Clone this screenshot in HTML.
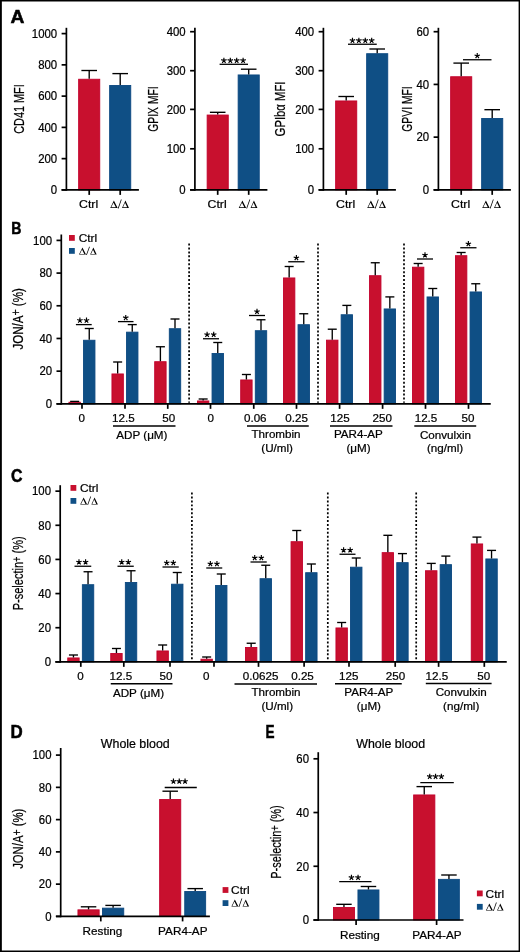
<!DOCTYPE html>
<html><head><meta charset="utf-8"><style>
html,body{margin:0;padding:0;background:#fff;}
svg{display:block;will-change:transform;}
text{font-family:"Liberation Sans",sans-serif;fill:#000;}
text:not([stroke]){stroke:#000;stroke-width:0.22px;}
</style></head><body>
<svg width="520" height="952" viewBox="0 0 520 952">
<rect x="0" y="0" width="520" height="952" fill="#000"/>
<rect x="1.85" y="1.5" width="516.75" height="949.0" fill="#fff"/>
<line x1="66.40" y1="27.80" x2="66.40" y2="190.75" stroke="#000" stroke-width="1.7" />
<line x1="61.60" y1="189.90" x2="66.40" y2="189.90" stroke="#000" stroke-width="1.7" />
<text transform="translate(57.20,194.20) scale(0.95,1)" font-size="12.0" text-anchor="end" >0</text>
<line x1="61.60" y1="158.64" x2="66.40" y2="158.64" stroke="#000" stroke-width="1.7" />
<text transform="translate(57.20,162.94) scale(0.95,1)" font-size="12.0" text-anchor="end" >200</text>
<line x1="61.60" y1="127.38" x2="66.40" y2="127.38" stroke="#000" stroke-width="1.7" />
<text transform="translate(57.20,131.68) scale(0.95,1)" font-size="12.0" text-anchor="end" >400</text>
<line x1="61.60" y1="96.12" x2="66.40" y2="96.12" stroke="#000" stroke-width="1.7" />
<text transform="translate(57.20,100.42) scale(0.95,1)" font-size="12.0" text-anchor="end" >600</text>
<line x1="61.60" y1="64.86" x2="66.40" y2="64.86" stroke="#000" stroke-width="1.7" />
<text transform="translate(57.20,69.16) scale(0.95,1)" font-size="12.0" text-anchor="end" >800</text>
<line x1="61.60" y1="33.60" x2="66.40" y2="33.60" stroke="#000" stroke-width="1.7" />
<text transform="translate(57.20,37.90) scale(0.95,1)" font-size="12.0" text-anchor="end" >1000</text>
<rect x="78.65" y="79.25" width="21.10" height="110.65" fill="#C8102E" stroke="#C2002C" stroke-width="0.9"/>
<rect x="109.65" y="85.45" width="21.10" height="104.45" fill="#0F4F85" stroke="#0B4880" stroke-width="0.9"/>
<line x1="89.20" y1="78.80" x2="89.20" y2="70.50" stroke="#000" stroke-width="1.35" />
<line x1="81.40" y1="70.50" x2="97.00" y2="70.50" stroke="#000" stroke-width="1.35" />
<line x1="120.20" y1="85.00" x2="120.20" y2="73.60" stroke="#000" stroke-width="1.35" />
<line x1="112.40" y1="73.60" x2="128.00" y2="73.60" stroke="#000" stroke-width="1.35" />
<line x1="61.60" y1="189.90" x2="138.90" y2="189.90" stroke="#000" stroke-width="1.7" />
<line x1="89.20" y1="189.90" x2="89.20" y2="194.90" stroke="#000" stroke-width="1.7" />
<line x1="120.20" y1="189.90" x2="120.20" y2="194.90" stroke="#000" stroke-width="1.7" />
<text transform="translate(88.60,208.00) scale(1.1,1)" font-size="11.2" text-anchor="middle" >Ctrl</text>
<g transform="translate(110.25,208.00) scale(1.0)" fill="#000"><path fill-rule="evenodd" d="M0.00,0.00L3.63,-7.50L7.40,0.00Z M0.98,-0.65L5.56,-0.65L3.23,-5.29Z"/><path d="M7.5,0.4 L8.3,0.4 L11.5,-8.4 L10.7,-8.4 Z"/><path fill-rule="evenodd" d="M11.80,0.00L15.18,-7.50L18.70,0.00Z M12.75,-0.65L16.90,-0.65L14.79,-5.16Z"/></g>
<text transform="translate(24.20,109.00) rotate(-90)" font-size="14.2" text-anchor="middle" x="0" y="0" textLength="49.5" lengthAdjust="spacingAndGlyphs">CD41 MFI</text>
<line x1="194.90" y1="27.80" x2="194.90" y2="190.70" stroke="#000" stroke-width="1.7" />
<line x1="190.10" y1="189.85" x2="194.90" y2="189.85" stroke="#000" stroke-width="1.7" />
<text transform="translate(185.70,194.15) scale(0.95,1)" font-size="12.0" text-anchor="end" >0</text>
<line x1="190.10" y1="148.80" x2="194.90" y2="148.80" stroke="#000" stroke-width="1.7" />
<text transform="translate(185.70,153.10) scale(0.95,1)" font-size="12.0" text-anchor="end" >100</text>
<line x1="190.10" y1="109.40" x2="194.90" y2="109.40" stroke="#000" stroke-width="1.7" />
<text transform="translate(185.70,113.70) scale(0.95,1)" font-size="12.0" text-anchor="end" >200</text>
<line x1="190.10" y1="70.70" x2="194.90" y2="70.70" stroke="#000" stroke-width="1.7" />
<text transform="translate(185.70,75.00) scale(0.95,1)" font-size="12.0" text-anchor="end" >300</text>
<line x1="190.10" y1="31.70" x2="194.90" y2="31.70" stroke="#000" stroke-width="1.7" />
<text transform="translate(185.70,36.00) scale(0.95,1)" font-size="12.0" text-anchor="end" >400</text>
<rect x="207.15" y="115.05" width="21.10" height="74.80" fill="#C8102E" stroke="#C2002C" stroke-width="0.9"/>
<rect x="238.15" y="74.95" width="21.10" height="114.90" fill="#0F4F85" stroke="#0B4880" stroke-width="0.9"/>
<line x1="217.70" y1="114.60" x2="217.70" y2="112.30" stroke="#000" stroke-width="1.35" />
<line x1="209.90" y1="112.30" x2="225.50" y2="112.30" stroke="#000" stroke-width="1.35" />
<line x1="248.70" y1="74.50" x2="248.70" y2="69.20" stroke="#000" stroke-width="1.35" />
<line x1="240.90" y1="69.20" x2="256.50" y2="69.20" stroke="#000" stroke-width="1.35" />
<line x1="190.10" y1="189.85" x2="267.40" y2="189.85" stroke="#000" stroke-width="1.7" />
<line x1="217.70" y1="189.85" x2="217.70" y2="194.85" stroke="#000" stroke-width="1.7" />
<line x1="248.70" y1="189.85" x2="248.70" y2="194.85" stroke="#000" stroke-width="1.7" />
<text transform="translate(217.10,208.00) scale(1.1,1)" font-size="11.2" text-anchor="middle" >Ctrl</text>
<g transform="translate(238.75,208.00) scale(1.0)" fill="#000"><path fill-rule="evenodd" d="M0.00,0.00L3.63,-7.50L7.40,0.00Z M0.98,-0.65L5.56,-0.65L3.23,-5.29Z"/><path d="M7.5,0.4 L8.3,0.4 L11.5,-8.4 L10.7,-8.4 Z"/><path fill-rule="evenodd" d="M11.80,0.00L15.18,-7.50L18.70,0.00Z M12.75,-0.65L16.90,-0.65L14.79,-5.16Z"/></g>
<line x1="219.60" y1="64.30" x2="248.00" y2="64.30" stroke="#000" stroke-width="1.3" />
<path d="M223.90,60.55L223.90,57.70M223.90,60.55L226.61,59.67M223.90,60.55L225.58,62.86M223.90,60.55L222.22,62.86M223.90,60.55L221.19,59.67" stroke="#000" stroke-width="1.15" fill="none"/>
<path d="M230.30,60.55L230.30,57.70M230.30,60.55L233.01,59.67M230.30,60.55L231.98,62.86M230.30,60.55L228.62,62.86M230.30,60.55L227.59,59.67" stroke="#000" stroke-width="1.15" fill="none"/>
<path d="M236.70,60.55L236.70,57.70M236.70,60.55L239.41,59.67M236.70,60.55L238.38,62.86M236.70,60.55L235.02,62.86M236.70,60.55L233.99,59.67" stroke="#000" stroke-width="1.15" fill="none"/>
<path d="M243.10,60.55L243.10,57.70M243.10,60.55L245.81,59.67M243.10,60.55L244.78,62.86M243.10,60.55L241.42,62.86M243.10,60.55L240.39,59.67" stroke="#000" stroke-width="1.15" fill="none"/>
<text transform="translate(157.60,109.00) rotate(-90)" font-size="14.2" text-anchor="middle" x="0" y="0" textLength="45.4" lengthAdjust="spacingAndGlyphs">GPIX MFI</text>
<line x1="323.40" y1="27.80" x2="323.40" y2="190.70" stroke="#000" stroke-width="1.7" />
<line x1="318.60" y1="189.85" x2="323.40" y2="189.85" stroke="#000" stroke-width="1.7" />
<text transform="translate(314.20,194.15) scale(0.95,1)" font-size="12.0" text-anchor="end" >0</text>
<line x1="318.60" y1="148.80" x2="323.40" y2="148.80" stroke="#000" stroke-width="1.7" />
<text transform="translate(314.20,153.10) scale(0.95,1)" font-size="12.0" text-anchor="end" >100</text>
<line x1="318.60" y1="109.40" x2="323.40" y2="109.40" stroke="#000" stroke-width="1.7" />
<text transform="translate(314.20,113.70) scale(0.95,1)" font-size="12.0" text-anchor="end" >200</text>
<line x1="318.60" y1="70.70" x2="323.40" y2="70.70" stroke="#000" stroke-width="1.7" />
<text transform="translate(314.20,75.00) scale(0.95,1)" font-size="12.0" text-anchor="end" >300</text>
<line x1="318.60" y1="31.70" x2="323.40" y2="31.70" stroke="#000" stroke-width="1.7" />
<text transform="translate(314.20,36.00) scale(0.95,1)" font-size="12.0" text-anchor="end" >400</text>
<rect x="335.65" y="100.95" width="21.10" height="88.90" fill="#C8102E" stroke="#C2002C" stroke-width="0.9"/>
<rect x="366.65" y="53.70" width="21.10" height="136.15" fill="#0F4F85" stroke="#0B4880" stroke-width="0.9"/>
<line x1="346.20" y1="100.50" x2="346.20" y2="96.50" stroke="#000" stroke-width="1.35" />
<line x1="338.40" y1="96.50" x2="354.00" y2="96.50" stroke="#000" stroke-width="1.35" />
<line x1="377.20" y1="53.25" x2="377.20" y2="49.00" stroke="#000" stroke-width="1.35" />
<line x1="369.40" y1="49.00" x2="385.00" y2="49.00" stroke="#000" stroke-width="1.35" />
<line x1="318.60" y1="189.85" x2="395.90" y2="189.85" stroke="#000" stroke-width="1.7" />
<line x1="346.20" y1="189.85" x2="346.20" y2="194.85" stroke="#000" stroke-width="1.7" />
<line x1="377.20" y1="189.85" x2="377.20" y2="194.85" stroke="#000" stroke-width="1.7" />
<text transform="translate(345.60,208.00) scale(1.1,1)" font-size="11.2" text-anchor="middle" >Ctrl</text>
<g transform="translate(367.25,208.00) scale(1.0)" fill="#000"><path fill-rule="evenodd" d="M0.00,0.00L3.63,-7.50L7.40,0.00Z M0.98,-0.65L5.56,-0.65L3.23,-5.29Z"/><path d="M7.5,0.4 L8.3,0.4 L11.5,-8.4 L10.7,-8.4 Z"/><path fill-rule="evenodd" d="M11.80,0.00L15.18,-7.50L18.70,0.00Z M12.75,-0.65L16.90,-0.65L14.79,-5.16Z"/></g>
<line x1="348.00" y1="44.25" x2="376.75" y2="44.25" stroke="#000" stroke-width="1.3" />
<path d="M352.47,40.50L352.47,37.65M352.47,40.50L355.19,39.62M352.47,40.50L354.15,42.81M352.47,40.50L350.80,42.81M352.47,40.50L349.76,39.62" stroke="#000" stroke-width="1.15" fill="none"/>
<path d="M358.88,40.50L358.88,37.65M358.88,40.50L361.59,39.62M358.88,40.50L360.55,42.81M358.88,40.50L357.20,42.81M358.88,40.50L356.16,39.62" stroke="#000" stroke-width="1.15" fill="none"/>
<path d="M365.27,40.50L365.27,37.65M365.27,40.50L367.99,39.62M365.27,40.50L366.95,42.81M365.27,40.50L363.60,42.81M365.27,40.50L362.56,39.62" stroke="#000" stroke-width="1.15" fill="none"/>
<path d="M371.68,40.50L371.68,37.65M371.68,40.50L374.39,39.62M371.68,40.50L373.35,42.81M371.68,40.50L370.00,42.81M371.68,40.50L368.96,39.62" stroke="#000" stroke-width="1.15" fill="none"/>
<text transform="translate(284.80,109.00) rotate(-90)" font-size="14.2" text-anchor="middle" x="0" y="0" textLength="54.8" lengthAdjust="spacingAndGlyphs">GPIb&#945; MFI</text>
<line x1="438.40" y1="27.80" x2="438.40" y2="190.70" stroke="#000" stroke-width="1.7" />
<line x1="433.60" y1="189.85" x2="438.40" y2="189.85" stroke="#000" stroke-width="1.7" />
<text transform="translate(429.20,194.15) scale(0.95,1)" font-size="12.0" text-anchor="end" >0</text>
<line x1="433.60" y1="137.13" x2="438.40" y2="137.13" stroke="#000" stroke-width="1.7" />
<text transform="translate(429.20,141.43) scale(0.95,1)" font-size="12.0" text-anchor="end" >20</text>
<line x1="433.60" y1="84.42" x2="438.40" y2="84.42" stroke="#000" stroke-width="1.7" />
<text transform="translate(429.20,88.71) scale(0.95,1)" font-size="12.0" text-anchor="end" >40</text>
<line x1="433.60" y1="31.70" x2="438.40" y2="31.70" stroke="#000" stroke-width="1.7" />
<text transform="translate(429.20,36.00) scale(0.95,1)" font-size="12.0" text-anchor="end" >60</text>
<rect x="450.65" y="76.75" width="21.10" height="113.10" fill="#C8102E" stroke="#C2002C" stroke-width="0.9"/>
<rect x="481.65" y="118.45" width="21.10" height="71.40" fill="#0F4F85" stroke="#0B4880" stroke-width="0.9"/>
<line x1="461.20" y1="76.30" x2="461.20" y2="63.10" stroke="#000" stroke-width="1.35" />
<line x1="453.40" y1="63.10" x2="469.00" y2="63.10" stroke="#000" stroke-width="1.35" />
<line x1="492.20" y1="118.00" x2="492.20" y2="109.70" stroke="#000" stroke-width="1.35" />
<line x1="484.40" y1="109.70" x2="500.00" y2="109.70" stroke="#000" stroke-width="1.35" />
<line x1="433.60" y1="189.85" x2="510.90" y2="189.85" stroke="#000" stroke-width="1.7" />
<line x1="461.20" y1="189.85" x2="461.20" y2="194.85" stroke="#000" stroke-width="1.7" />
<line x1="492.20" y1="189.85" x2="492.20" y2="194.85" stroke="#000" stroke-width="1.7" />
<text transform="translate(460.60,208.00) scale(1.1,1)" font-size="11.2" text-anchor="middle" >Ctrl</text>
<g transform="translate(482.25,208.00) scale(1.0)" fill="#000"><path fill-rule="evenodd" d="M0.00,0.00L3.63,-7.50L7.40,0.00Z M0.98,-0.65L5.56,-0.65L3.23,-5.29Z"/><path d="M7.5,0.4 L8.3,0.4 L11.5,-8.4 L10.7,-8.4 Z"/><path fill-rule="evenodd" d="M11.80,0.00L15.18,-7.50L18.70,0.00Z M12.75,-0.65L16.90,-0.65L14.79,-5.16Z"/></g>
<line x1="463.00" y1="59.75" x2="491.50" y2="59.75" stroke="#000" stroke-width="1.3" />
<path d="M477.25,55.90L477.25,53.05M477.25,55.90L479.96,55.02M477.25,55.90L478.93,58.21M477.25,55.90L475.57,58.21M477.25,55.90L474.54,55.02" stroke="#000" stroke-width="1.15" fill="none"/>
<text transform="translate(411.90,109.00) rotate(-90)" font-size="14.2" text-anchor="middle" x="0" y="0" textLength="45.4" lengthAdjust="spacingAndGlyphs">GPVI MFI</text>
<text transform="translate(10.6,22.6) scale(1.1,1)" font-size="17.5" font-weight="bold" stroke="#000" stroke-width="0.5">A</text>
<text transform="translate(11.3,233.5) scale(0.84,1)" font-size="16.8" font-weight="bold" stroke="#000" stroke-width="0.5">B</text>
<text transform="translate(10.9,481.8) scale(0.91,1)" font-size="17.5" font-weight="bold" stroke="#000" stroke-width="0.5">C</text>
<text transform="translate(10.5,737.6) scale(0.965,1)" font-size="17.5" font-weight="bold" stroke="#000" stroke-width="0.5">D</text>
<text transform="translate(265.4,737.6) scale(0.775,1)" font-size="17.5" font-weight="bold" stroke="#000" stroke-width="0.5">E</text>
<line x1="61.30" y1="234.50" x2="61.30" y2="404.70" stroke="#000" stroke-width="1.7" />
<line x1="56.50" y1="403.85" x2="61.30" y2="403.85" stroke="#000" stroke-width="1.7" />
<text transform="translate(52.10,408.15) scale(0.95,1)" font-size="12.0" text-anchor="end" >0</text>
<line x1="56.50" y1="371.16" x2="61.30" y2="371.16" stroke="#000" stroke-width="1.7" />
<text transform="translate(52.10,375.46) scale(0.95,1)" font-size="12.0" text-anchor="end" >20</text>
<line x1="56.50" y1="338.47" x2="61.30" y2="338.47" stroke="#000" stroke-width="1.7" />
<text transform="translate(52.10,342.77) scale(0.95,1)" font-size="12.0" text-anchor="end" >40</text>
<line x1="56.50" y1="305.78" x2="61.30" y2="305.78" stroke="#000" stroke-width="1.7" />
<text transform="translate(52.10,310.08) scale(0.95,1)" font-size="12.0" text-anchor="end" >60</text>
<line x1="56.50" y1="273.09" x2="61.30" y2="273.09" stroke="#000" stroke-width="1.7" />
<text transform="translate(52.10,277.39) scale(0.95,1)" font-size="12.0" text-anchor="end" >80</text>
<line x1="56.50" y1="240.40" x2="61.30" y2="240.40" stroke="#000" stroke-width="1.7" />
<text transform="translate(52.10,244.70) scale(0.95,1)" font-size="12.0" text-anchor="end" >100</text>
<rect x="68.95" y="402.25" width="11.40" height="1.60" fill="#C8102E" stroke="#C2002C" stroke-width="0.9"/>
<rect x="83.55" y="340.25" width="11.40" height="63.60" fill="#0F4F85" stroke="#0B4880" stroke-width="0.9"/>
<line x1="74.65" y1="401.80" x2="74.65" y2="401.40" stroke="#000" stroke-width="1.35" />
<line x1="70.15" y1="401.40" x2="79.15" y2="401.40" stroke="#000" stroke-width="1.35" />
<line x1="89.25" y1="339.80" x2="89.25" y2="328.50" stroke="#000" stroke-width="1.35" />
<line x1="84.75" y1="328.50" x2="93.75" y2="328.50" stroke="#000" stroke-width="1.35" />
<line x1="75.90" y1="324.60" x2="91.70" y2="324.60" stroke="#000" stroke-width="1.3" />
<path d="M79.90,320.45L79.90,317.60M79.90,320.45L82.61,319.57M79.90,320.45L81.58,322.76M79.90,320.45L78.22,322.76M79.90,320.45L77.19,319.57" stroke="#000" stroke-width="1.15" fill="none"/>
<path d="M86.50,320.45L86.50,317.60M86.50,320.45L89.21,319.57M86.50,320.45L88.18,322.76M86.50,320.45L84.82,322.76M86.50,320.45L83.79,319.57" stroke="#000" stroke-width="1.15" fill="none"/>
<rect x="111.95" y="373.95" width="11.40" height="29.90" fill="#C8102E" stroke="#C2002C" stroke-width="0.9"/>
<rect x="126.55" y="332.15" width="11.40" height="71.70" fill="#0F4F85" stroke="#0B4880" stroke-width="0.9"/>
<line x1="117.65" y1="373.50" x2="117.65" y2="362.00" stroke="#000" stroke-width="1.35" />
<line x1="113.15" y1="362.00" x2="122.15" y2="362.00" stroke="#000" stroke-width="1.35" />
<line x1="132.25" y1="331.70" x2="132.25" y2="324.60" stroke="#000" stroke-width="1.35" />
<line x1="127.75" y1="324.60" x2="136.75" y2="324.60" stroke="#000" stroke-width="1.35" />
<line x1="118.00" y1="321.60" x2="133.50" y2="321.60" stroke="#000" stroke-width="1.3" />
<path d="M125.75,317.75L125.75,314.90M125.75,317.75L128.46,316.87M125.75,317.75L127.43,320.06M125.75,317.75L124.07,320.06M125.75,317.75L123.04,316.87" stroke="#000" stroke-width="1.15" fill="none"/>
<rect x="154.70" y="361.70" width="11.40" height="42.15" fill="#C8102E" stroke="#C2002C" stroke-width="0.9"/>
<rect x="169.30" y="328.70" width="11.40" height="75.15" fill="#0F4F85" stroke="#0B4880" stroke-width="0.9"/>
<line x1="160.40" y1="361.25" x2="160.40" y2="346.75" stroke="#000" stroke-width="1.35" />
<line x1="155.90" y1="346.75" x2="164.90" y2="346.75" stroke="#000" stroke-width="1.35" />
<line x1="175.00" y1="328.25" x2="175.00" y2="319.00" stroke="#000" stroke-width="1.35" />
<line x1="170.50" y1="319.00" x2="179.50" y2="319.00" stroke="#000" stroke-width="1.35" />
<rect x="197.45" y="400.95" width="11.40" height="2.90" fill="#C8102E" stroke="#C2002C" stroke-width="0.9"/>
<rect x="212.05" y="353.45" width="11.40" height="50.40" fill="#0F4F85" stroke="#0B4880" stroke-width="0.9"/>
<line x1="203.15" y1="400.50" x2="203.15" y2="399.00" stroke="#000" stroke-width="1.35" />
<line x1="198.65" y1="399.00" x2="207.65" y2="399.00" stroke="#000" stroke-width="1.35" />
<line x1="217.75" y1="353.00" x2="217.75" y2="342.50" stroke="#000" stroke-width="1.35" />
<line x1="213.25" y1="342.50" x2="222.25" y2="342.50" stroke="#000" stroke-width="1.35" />
<line x1="203.00" y1="338.75" x2="219.00" y2="338.75" stroke="#000" stroke-width="1.3" />
<path d="M207.10,334.60L207.10,331.75M207.10,334.60L209.81,333.72M207.10,334.60L208.78,336.91M207.10,334.60L205.42,336.91M207.10,334.60L204.39,333.72" stroke="#000" stroke-width="1.15" fill="none"/>
<path d="M213.70,334.60L213.70,331.75M213.70,334.60L216.41,333.72M213.70,334.60L215.38,336.91M213.70,334.60L212.02,336.91M213.70,334.60L210.99,333.72" stroke="#000" stroke-width="1.15" fill="none"/>
<rect x="240.70" y="379.95" width="11.40" height="23.90" fill="#C8102E" stroke="#C2002C" stroke-width="0.9"/>
<rect x="255.30" y="330.70" width="11.40" height="73.15" fill="#0F4F85" stroke="#0B4880" stroke-width="0.9"/>
<line x1="246.40" y1="379.50" x2="246.40" y2="374.50" stroke="#000" stroke-width="1.35" />
<line x1="241.90" y1="374.50" x2="250.90" y2="374.50" stroke="#000" stroke-width="1.35" />
<line x1="261.00" y1="330.25" x2="261.00" y2="319.75" stroke="#000" stroke-width="1.35" />
<line x1="256.50" y1="319.75" x2="265.50" y2="319.75" stroke="#000" stroke-width="1.35" />
<line x1="249.00" y1="315.50" x2="265.00" y2="315.50" stroke="#000" stroke-width="1.3" />
<path d="M257.00,311.65L257.00,308.80M257.00,311.65L259.71,310.77M257.00,311.65L258.68,313.96M257.00,311.65L255.32,313.96M257.00,311.65L254.29,310.77" stroke="#000" stroke-width="1.15" fill="none"/>
<rect x="283.45" y="277.95" width="11.40" height="125.90" fill="#C8102E" stroke="#C2002C" stroke-width="0.9"/>
<rect x="298.05" y="324.70" width="11.40" height="79.15" fill="#0F4F85" stroke="#0B4880" stroke-width="0.9"/>
<line x1="289.15" y1="277.50" x2="289.15" y2="266.50" stroke="#000" stroke-width="1.35" />
<line x1="284.65" y1="266.50" x2="293.65" y2="266.50" stroke="#000" stroke-width="1.35" />
<line x1="303.75" y1="324.25" x2="303.75" y2="313.75" stroke="#000" stroke-width="1.35" />
<line x1="299.25" y1="313.75" x2="308.25" y2="313.75" stroke="#000" stroke-width="1.35" />
<line x1="288.25" y1="261.75" x2="304.50" y2="261.75" stroke="#000" stroke-width="1.3" />
<path d="M296.38,257.90L296.38,255.05M296.38,257.90L299.09,257.02M296.38,257.90L298.05,260.21M296.38,257.90L294.70,260.21M296.38,257.90L293.66,257.02" stroke="#000" stroke-width="1.15" fill="none"/>
<rect x="326.55" y="340.15" width="11.40" height="63.70" fill="#C8102E" stroke="#C2002C" stroke-width="0.9"/>
<rect x="341.15" y="314.75" width="11.40" height="89.10" fill="#0F4F85" stroke="#0B4880" stroke-width="0.9"/>
<line x1="332.25" y1="339.70" x2="332.25" y2="329.20" stroke="#000" stroke-width="1.35" />
<line x1="327.75" y1="329.20" x2="336.75" y2="329.20" stroke="#000" stroke-width="1.35" />
<line x1="346.85" y1="314.30" x2="346.85" y2="305.40" stroke="#000" stroke-width="1.35" />
<line x1="342.35" y1="305.40" x2="351.35" y2="305.40" stroke="#000" stroke-width="1.35" />
<rect x="369.55" y="275.70" width="11.40" height="128.15" fill="#C8102E" stroke="#C2002C" stroke-width="0.9"/>
<rect x="384.15" y="308.95" width="11.40" height="94.90" fill="#0F4F85" stroke="#0B4880" stroke-width="0.9"/>
<line x1="375.25" y1="275.25" x2="375.25" y2="262.75" stroke="#000" stroke-width="1.35" />
<line x1="370.75" y1="262.75" x2="379.75" y2="262.75" stroke="#000" stroke-width="1.35" />
<line x1="389.85" y1="308.50" x2="389.85" y2="296.90" stroke="#000" stroke-width="1.35" />
<line x1="385.35" y1="296.90" x2="394.35" y2="296.90" stroke="#000" stroke-width="1.35" />
<rect x="412.45" y="267.20" width="11.40" height="136.65" fill="#C8102E" stroke="#C2002C" stroke-width="0.9"/>
<rect x="427.05" y="296.95" width="11.40" height="106.90" fill="#0F4F85" stroke="#0B4880" stroke-width="0.9"/>
<line x1="418.15" y1="266.75" x2="418.15" y2="263.50" stroke="#000" stroke-width="1.35" />
<line x1="413.65" y1="263.50" x2="422.65" y2="263.50" stroke="#000" stroke-width="1.35" />
<line x1="432.75" y1="296.50" x2="432.75" y2="288.50" stroke="#000" stroke-width="1.35" />
<line x1="428.25" y1="288.50" x2="437.25" y2="288.50" stroke="#000" stroke-width="1.35" />
<line x1="417.00" y1="259.00" x2="433.00" y2="259.00" stroke="#000" stroke-width="1.3" />
<path d="M425.00,255.15L425.00,252.30M425.00,255.15L427.71,254.27M425.00,255.15L426.68,257.46M425.00,255.15L423.32,257.46M425.00,255.15L422.29,254.27" stroke="#000" stroke-width="1.15" fill="none"/>
<rect x="455.45" y="255.70" width="11.40" height="148.15" fill="#C8102E" stroke="#C2002C" stroke-width="0.9"/>
<rect x="470.05" y="291.95" width="11.40" height="111.90" fill="#0F4F85" stroke="#0B4880" stroke-width="0.9"/>
<line x1="461.15" y1="255.25" x2="461.15" y2="252.50" stroke="#000" stroke-width="1.35" />
<line x1="456.65" y1="252.50" x2="465.65" y2="252.50" stroke="#000" stroke-width="1.35" />
<line x1="475.75" y1="291.50" x2="475.75" y2="283.75" stroke="#000" stroke-width="1.35" />
<line x1="471.25" y1="283.75" x2="480.25" y2="283.75" stroke="#000" stroke-width="1.35" />
<line x1="460.25" y1="247.75" x2="476.50" y2="247.75" stroke="#000" stroke-width="1.3" />
<path d="M468.38,243.90L468.38,241.05M468.38,243.90L471.09,243.02M468.38,243.90L470.05,246.21M468.38,243.90L466.70,246.21M468.38,243.90L465.66,243.02" stroke="#000" stroke-width="1.15" fill="none"/>
<line x1="56.50" y1="403.85" x2="490.75" y2="403.85" stroke="#000" stroke-width="1.7" />
<line x1="82.00" y1="403.85" x2="82.00" y2="408.85" stroke="#000" stroke-width="1.7" />
<line x1="125.00" y1="403.85" x2="125.00" y2="408.85" stroke="#000" stroke-width="1.7" />
<line x1="167.75" y1="403.85" x2="167.75" y2="408.85" stroke="#000" stroke-width="1.7" />
<line x1="210.50" y1="403.85" x2="210.50" y2="408.85" stroke="#000" stroke-width="1.7" />
<line x1="253.75" y1="403.85" x2="253.75" y2="408.85" stroke="#000" stroke-width="1.7" />
<line x1="296.50" y1="403.85" x2="296.50" y2="408.85" stroke="#000" stroke-width="1.7" />
<line x1="339.60" y1="403.85" x2="339.60" y2="408.85" stroke="#000" stroke-width="1.7" />
<line x1="382.60" y1="403.85" x2="382.60" y2="408.85" stroke="#000" stroke-width="1.7" />
<line x1="425.50" y1="403.85" x2="425.50" y2="408.85" stroke="#000" stroke-width="1.7" />
<line x1="468.50" y1="403.85" x2="468.50" y2="408.85" stroke="#000" stroke-width="1.7" />
<line x1="189.10" y1="243.51" x2="189.10" y2="402.85" stroke="#000" stroke-width="1.7" stroke-dasharray="1.975 1.975"/>
<line x1="318.00" y1="243.51" x2="318.00" y2="402.85" stroke="#000" stroke-width="1.7" stroke-dasharray="1.975 1.975"/>
<line x1="404.00" y1="243.51" x2="404.00" y2="402.85" stroke="#000" stroke-width="1.7" stroke-dasharray="1.975 1.975"/>
<text transform="translate(22.80,318.90) rotate(-90)" font-size="14.2" text-anchor="middle" x="0" y="0" textLength="61.3" lengthAdjust="spacingAndGlyphs">JON/A<tspan font-size="13" dy="-2.6">+</tspan><tspan dy="2.6"> (%)</tspan></text>
<rect x="69.00" y="235.00" width="5.80" height="5.80" fill="#C8102E"/>
<rect x="69.00" y="248.00" width="5.80" height="5.80" fill="#0F4F85"/>
<text transform="translate(78.70,242.30) scale(1.08,1)" font-size="11.0" text-anchor="start" >Ctrl</text>
<g transform="translate(79.00,254.60) scale(0.946)" fill="#000"><path fill-rule="evenodd" d="M0.00,0.00L3.63,-7.50L7.40,0.00Z M0.98,-0.65L5.56,-0.65L3.23,-5.29Z"/><path d="M7.5,0.4 L8.3,0.4 L11.5,-8.4 L10.7,-8.4 Z"/><path fill-rule="evenodd" d="M11.80,0.00L15.18,-7.50L18.70,0.00Z M12.75,-0.65L16.90,-0.65L14.79,-5.16Z"/></g>
<line x1="60.20" y1="485.20" x2="60.20" y2="662.70" stroke="#000" stroke-width="1.7" />
<line x1="55.40" y1="661.85" x2="60.20" y2="661.85" stroke="#000" stroke-width="1.7" />
<text transform="translate(51.00,666.15) scale(0.95,1)" font-size="12.0" text-anchor="end" >0</text>
<line x1="55.40" y1="627.71" x2="60.20" y2="627.71" stroke="#000" stroke-width="1.7" />
<text transform="translate(51.00,632.01) scale(0.95,1)" font-size="12.0" text-anchor="end" >20</text>
<line x1="55.40" y1="593.57" x2="60.20" y2="593.57" stroke="#000" stroke-width="1.7" />
<text transform="translate(51.00,597.87) scale(0.95,1)" font-size="12.0" text-anchor="end" >40</text>
<line x1="55.40" y1="559.43" x2="60.20" y2="559.43" stroke="#000" stroke-width="1.7" />
<text transform="translate(51.00,563.73) scale(0.95,1)" font-size="12.0" text-anchor="end" >60</text>
<line x1="55.40" y1="525.29" x2="60.20" y2="525.29" stroke="#000" stroke-width="1.7" />
<text transform="translate(51.00,529.59) scale(0.95,1)" font-size="12.0" text-anchor="end" >80</text>
<line x1="55.40" y1="491.15" x2="60.20" y2="491.15" stroke="#000" stroke-width="1.7" />
<text transform="translate(51.00,495.45) scale(0.95,1)" font-size="12.0" text-anchor="end" >100</text>
<rect x="67.75" y="657.95" width="11.40" height="3.90" fill="#C8102E" stroke="#C2002C" stroke-width="0.9"/>
<rect x="82.35" y="584.70" width="11.40" height="77.15" fill="#0F4F85" stroke="#0B4880" stroke-width="0.9"/>
<line x1="73.45" y1="657.50" x2="73.45" y2="655.00" stroke="#000" stroke-width="1.35" />
<line x1="68.95" y1="655.00" x2="77.95" y2="655.00" stroke="#000" stroke-width="1.35" />
<line x1="88.05" y1="584.25" x2="88.05" y2="571.75" stroke="#000" stroke-width="1.35" />
<line x1="83.55" y1="571.75" x2="92.55" y2="571.75" stroke="#000" stroke-width="1.35" />
<line x1="74.50" y1="566.25" x2="91.25" y2="566.25" stroke="#000" stroke-width="1.3" />
<path d="M78.98,562.10L78.98,559.25M78.98,562.10L81.69,561.22M78.98,562.10L80.65,564.41M78.98,562.10L77.30,564.41M78.98,562.10L76.26,561.22" stroke="#000" stroke-width="1.15" fill="none"/>
<path d="M85.58,562.10L85.58,559.25M85.58,562.10L88.29,561.22M85.58,562.10L87.25,564.41M85.58,562.10L83.90,564.41M85.58,562.10L82.86,561.22" stroke="#000" stroke-width="1.15" fill="none"/>
<rect x="110.75" y="653.45" width="11.40" height="8.40" fill="#C8102E" stroke="#C2002C" stroke-width="0.9"/>
<rect x="125.35" y="582.45" width="11.40" height="79.40" fill="#0F4F85" stroke="#0B4880" stroke-width="0.9"/>
<line x1="116.45" y1="653.00" x2="116.45" y2="648.50" stroke="#000" stroke-width="1.35" />
<line x1="111.95" y1="648.50" x2="120.95" y2="648.50" stroke="#000" stroke-width="1.35" />
<line x1="131.05" y1="582.00" x2="131.05" y2="570.75" stroke="#000" stroke-width="1.35" />
<line x1="126.55" y1="570.75" x2="135.55" y2="570.75" stroke="#000" stroke-width="1.35" />
<line x1="117.50" y1="566.25" x2="133.75" y2="566.25" stroke="#000" stroke-width="1.3" />
<path d="M121.73,562.10L121.73,559.25M121.73,562.10L124.44,561.22M121.73,562.10L123.40,564.41M121.73,562.10L120.05,564.41M121.73,562.10L119.01,561.22" stroke="#000" stroke-width="1.15" fill="none"/>
<path d="M128.33,562.10L128.33,559.25M128.33,562.10L131.04,561.22M128.33,562.10L130.00,564.41M128.33,562.10L126.65,564.41M128.33,562.10L125.61,561.22" stroke="#000" stroke-width="1.15" fill="none"/>
<rect x="156.95" y="650.95" width="11.40" height="10.90" fill="#C8102E" stroke="#C2002C" stroke-width="0.9"/>
<rect x="171.55" y="584.20" width="11.40" height="77.65" fill="#0F4F85" stroke="#0B4880" stroke-width="0.9"/>
<line x1="162.65" y1="650.50" x2="162.65" y2="645.00" stroke="#000" stroke-width="1.35" />
<line x1="158.15" y1="645.00" x2="167.15" y2="645.00" stroke="#000" stroke-width="1.35" />
<line x1="177.25" y1="583.75" x2="177.25" y2="572.50" stroke="#000" stroke-width="1.35" />
<line x1="172.75" y1="572.50" x2="181.75" y2="572.50" stroke="#000" stroke-width="1.35" />
<line x1="162.50" y1="567.00" x2="178.75" y2="567.00" stroke="#000" stroke-width="1.3" />
<path d="M166.72,562.85L166.72,560.00M166.72,562.85L169.44,561.97M166.72,562.85L168.40,565.16M166.72,562.85L165.05,565.16M166.72,562.85L164.01,561.97" stroke="#000" stroke-width="1.15" fill="none"/>
<path d="M173.33,562.85L173.33,560.00M173.33,562.85L176.04,561.97M173.33,562.85L175.00,565.16M173.33,562.85L171.65,565.16M173.33,562.85L170.61,561.97" stroke="#000" stroke-width="1.15" fill="none"/>
<rect x="200.95" y="659.20" width="11.40" height="2.65" fill="#C8102E" stroke="#C2002C" stroke-width="0.9"/>
<rect x="215.55" y="585.45" width="11.40" height="76.40" fill="#0F4F85" stroke="#0B4880" stroke-width="0.9"/>
<line x1="206.65" y1="658.75" x2="206.65" y2="657.00" stroke="#000" stroke-width="1.35" />
<line x1="202.15" y1="657.00" x2="211.15" y2="657.00" stroke="#000" stroke-width="1.35" />
<line x1="221.25" y1="585.00" x2="221.25" y2="574.00" stroke="#000" stroke-width="1.35" />
<line x1="216.75" y1="574.00" x2="225.75" y2="574.00" stroke="#000" stroke-width="1.35" />
<line x1="206.25" y1="568.00" x2="222.25" y2="568.00" stroke="#000" stroke-width="1.3" />
<path d="M210.35,563.85L210.35,561.00M210.35,563.85L213.06,562.97M210.35,563.85L212.03,566.16M210.35,563.85L208.67,566.16M210.35,563.85L207.64,562.97" stroke="#000" stroke-width="1.15" fill="none"/>
<path d="M216.95,563.85L216.95,561.00M216.95,563.85L219.66,562.97M216.95,563.85L218.63,566.16M216.95,563.85L215.27,566.16M216.95,563.85L214.24,562.97" stroke="#000" stroke-width="1.15" fill="none"/>
<rect x="245.45" y="647.45" width="11.40" height="14.40" fill="#C8102E" stroke="#C2002C" stroke-width="0.9"/>
<rect x="260.05" y="578.70" width="11.40" height="83.15" fill="#0F4F85" stroke="#0B4880" stroke-width="0.9"/>
<line x1="251.15" y1="647.00" x2="251.15" y2="643.25" stroke="#000" stroke-width="1.35" />
<line x1="246.65" y1="643.25" x2="255.65" y2="643.25" stroke="#000" stroke-width="1.35" />
<line x1="265.75" y1="578.25" x2="265.75" y2="565.25" stroke="#000" stroke-width="1.35" />
<line x1="261.25" y1="565.25" x2="270.25" y2="565.25" stroke="#000" stroke-width="1.35" />
<line x1="250.50" y1="562.00" x2="266.75" y2="562.00" stroke="#000" stroke-width="1.3" />
<path d="M254.72,557.85L254.72,555.00M254.72,557.85L257.44,556.97M254.72,557.85L256.40,560.16M254.72,557.85L253.05,560.16M254.72,557.85L252.01,556.97" stroke="#000" stroke-width="1.15" fill="none"/>
<path d="M261.32,557.85L261.32,555.00M261.32,557.85L264.04,556.97M261.32,557.85L263.00,560.16M261.32,557.85L259.65,560.16M261.32,557.85L258.61,556.97" stroke="#000" stroke-width="1.15" fill="none"/>
<rect x="291.05" y="541.70" width="11.40" height="120.15" fill="#C8102E" stroke="#C2002C" stroke-width="0.9"/>
<rect x="305.65" y="572.70" width="11.40" height="89.15" fill="#0F4F85" stroke="#0B4880" stroke-width="0.9"/>
<line x1="296.75" y1="541.25" x2="296.75" y2="530.50" stroke="#000" stroke-width="1.35" />
<line x1="292.25" y1="530.50" x2="301.25" y2="530.50" stroke="#000" stroke-width="1.35" />
<line x1="311.35" y1="572.25" x2="311.35" y2="564.00" stroke="#000" stroke-width="1.35" />
<line x1="306.85" y1="564.00" x2="315.85" y2="564.00" stroke="#000" stroke-width="1.35" />
<rect x="335.95" y="627.95" width="11.40" height="33.90" fill="#C8102E" stroke="#C2002C" stroke-width="0.9"/>
<rect x="350.55" y="567.20" width="11.40" height="94.65" fill="#0F4F85" stroke="#0B4880" stroke-width="0.9"/>
<line x1="341.65" y1="627.50" x2="341.65" y2="622.50" stroke="#000" stroke-width="1.35" />
<line x1="337.15" y1="622.50" x2="346.15" y2="622.50" stroke="#000" stroke-width="1.35" />
<line x1="356.25" y1="566.75" x2="356.25" y2="558.00" stroke="#000" stroke-width="1.35" />
<line x1="351.75" y1="558.00" x2="360.75" y2="558.00" stroke="#000" stroke-width="1.35" />
<line x1="339.50" y1="554.25" x2="355.50" y2="554.25" stroke="#000" stroke-width="1.3" />
<path d="M343.60,550.10L343.60,547.25M343.60,550.10L346.31,549.22M343.60,550.10L345.28,552.41M343.60,550.10L341.92,552.41M343.60,550.10L340.89,549.22" stroke="#000" stroke-width="1.15" fill="none"/>
<path d="M350.20,550.10L350.20,547.25M350.20,550.10L352.91,549.22M350.20,550.10L351.88,552.41M350.20,550.10L348.52,552.41M350.20,550.10L347.49,549.22" stroke="#000" stroke-width="1.15" fill="none"/>
<rect x="382.15" y="552.65" width="11.40" height="109.20" fill="#C8102E" stroke="#C2002C" stroke-width="0.9"/>
<rect x="396.75" y="562.65" width="11.40" height="99.20" fill="#0F4F85" stroke="#0B4880" stroke-width="0.9"/>
<line x1="387.85" y1="552.20" x2="387.85" y2="535.30" stroke="#000" stroke-width="1.35" />
<line x1="383.35" y1="535.30" x2="392.35" y2="535.30" stroke="#000" stroke-width="1.35" />
<line x1="402.45" y1="562.20" x2="402.45" y2="553.60" stroke="#000" stroke-width="1.35" />
<line x1="397.95" y1="553.60" x2="406.95" y2="553.60" stroke="#000" stroke-width="1.35" />
<rect x="425.55" y="570.75" width="11.40" height="91.10" fill="#C8102E" stroke="#C2002C" stroke-width="0.9"/>
<rect x="440.15" y="564.65" width="11.40" height="97.20" fill="#0F4F85" stroke="#0B4880" stroke-width="0.9"/>
<line x1="431.25" y1="570.30" x2="431.25" y2="563.40" stroke="#000" stroke-width="1.35" />
<line x1="426.75" y1="563.40" x2="435.75" y2="563.40" stroke="#000" stroke-width="1.35" />
<line x1="445.85" y1="564.20" x2="445.85" y2="556.10" stroke="#000" stroke-width="1.35" />
<line x1="441.35" y1="556.10" x2="450.35" y2="556.10" stroke="#000" stroke-width="1.35" />
<rect x="471.25" y="543.95" width="11.40" height="117.90" fill="#C8102E" stroke="#C2002C" stroke-width="0.9"/>
<rect x="485.85" y="558.95" width="11.40" height="102.90" fill="#0F4F85" stroke="#0B4880" stroke-width="0.9"/>
<line x1="476.95" y1="543.50" x2="476.95" y2="537.10" stroke="#000" stroke-width="1.35" />
<line x1="472.45" y1="537.10" x2="481.45" y2="537.10" stroke="#000" stroke-width="1.35" />
<line x1="491.55" y1="558.50" x2="491.55" y2="550.40" stroke="#000" stroke-width="1.35" />
<line x1="487.05" y1="550.40" x2="496.05" y2="550.40" stroke="#000" stroke-width="1.35" />
<line x1="55.40" y1="661.85" x2="506.75" y2="661.85" stroke="#000" stroke-width="1.7" />
<line x1="80.80" y1="661.85" x2="80.80" y2="666.85" stroke="#000" stroke-width="1.7" />
<line x1="123.80" y1="661.85" x2="123.80" y2="666.85" stroke="#000" stroke-width="1.7" />
<line x1="170.00" y1="661.85" x2="170.00" y2="666.85" stroke="#000" stroke-width="1.7" />
<line x1="214.00" y1="661.85" x2="214.00" y2="666.85" stroke="#000" stroke-width="1.7" />
<line x1="258.50" y1="661.85" x2="258.50" y2="666.85" stroke="#000" stroke-width="1.7" />
<line x1="304.10" y1="661.85" x2="304.10" y2="666.85" stroke="#000" stroke-width="1.7" />
<line x1="349.00" y1="661.85" x2="349.00" y2="666.85" stroke="#000" stroke-width="1.7" />
<line x1="395.20" y1="661.85" x2="395.20" y2="666.85" stroke="#000" stroke-width="1.7" />
<line x1="438.60" y1="661.85" x2="438.60" y2="666.85" stroke="#000" stroke-width="1.7" />
<line x1="484.30" y1="661.85" x2="484.30" y2="666.85" stroke="#000" stroke-width="1.7" />
<line x1="191.90" y1="492.62" x2="191.90" y2="660.85" stroke="#000" stroke-width="1.7" stroke-dasharray="1.960 1.960"/>
<line x1="327.80" y1="492.62" x2="327.80" y2="660.85" stroke="#000" stroke-width="1.7" stroke-dasharray="1.960 1.960"/>
<line x1="416.20" y1="492.62" x2="416.20" y2="660.85" stroke="#000" stroke-width="1.7" stroke-dasharray="1.960 1.960"/>
<text transform="translate(22.50,573.30) rotate(-90)" font-size="14.2" text-anchor="middle" x="0" y="0" textLength="74.0" lengthAdjust="spacingAndGlyphs">P-selectin<tspan font-size="12" dy="-1.8">+</tspan><tspan dy="1.8"> (%)</tspan></text>
<rect x="70.50" y="485.00" width="5.80" height="5.80" fill="#C8102E"/>
<rect x="70.50" y="498.00" width="5.80" height="5.80" fill="#0F4F85"/>
<text transform="translate(79.90,491.90) scale(1.08,1)" font-size="11.0" text-anchor="start" >Ctrl</text>
<g transform="translate(80.20,504.50) scale(0.946)" fill="#000"><path fill-rule="evenodd" d="M0.00,0.00L3.63,-7.50L7.40,0.00Z M0.98,-0.65L5.56,-0.65L3.23,-5.29Z"/><path d="M7.5,0.4 L8.3,0.4 L11.5,-8.4 L10.7,-8.4 Z"/><path fill-rule="evenodd" d="M11.80,0.00L15.18,-7.50L18.70,0.00Z M12.75,-0.65L16.90,-0.65L14.79,-5.16Z"/></g>
<text transform="translate(81.75,421.90) scale(1.04,1)" font-size="11.2" text-anchor="middle" >0</text>
<text transform="translate(123.40,421.90) scale(1.04,1)" font-size="11.2" text-anchor="middle" >12.5</text>
<text transform="translate(168.75,421.90) scale(1.04,1)" font-size="11.2" text-anchor="middle" >50</text>
<text transform="translate(210.75,421.90) scale(1.04,1)" font-size="11.2" text-anchor="middle" >0</text>
<text transform="translate(255.25,421.90) scale(1.04,1)" font-size="11.2" text-anchor="middle" >0.06</text>
<text transform="translate(296.60,421.90) scale(1.04,1)" font-size="11.2" text-anchor="middle" >0.25</text>
<text transform="translate(340.00,421.90) scale(1.04,1)" font-size="11.2" text-anchor="middle" >125</text>
<text transform="translate(382.25,421.90) scale(1.04,1)" font-size="11.2" text-anchor="middle" >250</text>
<text transform="translate(426.00,421.90) scale(1.04,1)" font-size="11.2" text-anchor="middle" >12.5</text>
<text transform="translate(468.00,421.90) scale(1.04,1)" font-size="11.2" text-anchor="middle" >50</text>
<line x1="113.00" y1="426.00" x2="175.50" y2="426.00" stroke="#000" stroke-width="1.5" />
<line x1="247.00" y1="426.00" x2="308.75" y2="426.00" stroke="#000" stroke-width="1.5" />
<line x1="330.00" y1="426.00" x2="392.50" y2="426.00" stroke="#000" stroke-width="1.5" />
<line x1="414.30" y1="426.00" x2="476.20" y2="426.00" stroke="#000" stroke-width="1.5" />
<text transform="translate(141.90,438.75) scale(1.04,1)" font-size="11.2" text-anchor="middle" >ADP (&#956;M)</text>
<text transform="translate(276.00,437.50) scale(1.04,1)" font-size="11.2" text-anchor="middle" >Thrombin</text>
<text transform="translate(277.10,451.75) scale(1.04,1)" font-size="11.2" text-anchor="middle" >(U/ml)</text>
<text transform="translate(358.40,437.50) scale(1.04,1)" font-size="11.2" text-anchor="middle" >PAR4-AP</text>
<text transform="translate(358.50,451.75) scale(1.04,1)" font-size="11.2" text-anchor="middle" >(&#956;M)</text>
<text transform="translate(445.50,438.50) scale(1.04,1)" font-size="11.2" text-anchor="middle" >Convulxin</text>
<text transform="translate(445.00,451.80) scale(1.04,1)" font-size="11.2" text-anchor="middle" >(ng/ml)</text>
<text transform="translate(80.50,679.60) scale(1.04,1)" font-size="11.2" text-anchor="middle" >0</text>
<text transform="translate(120.90,679.60) scale(1.04,1)" font-size="11.2" text-anchor="middle" >12.5</text>
<text transform="translate(166.00,679.60) scale(1.04,1)" font-size="11.2" text-anchor="middle" >50</text>
<text transform="translate(206.25,679.60) scale(1.04,1)" font-size="11.2" text-anchor="middle" >0</text>
<text transform="translate(260.60,679.60) scale(1.04,1)" font-size="11.2" text-anchor="middle" >0.0625</text>
<text transform="translate(302.50,679.60) scale(1.04,1)" font-size="11.2" text-anchor="middle" >0.25</text>
<text transform="translate(348.75,679.60) scale(1.04,1)" font-size="11.2" text-anchor="middle" >125</text>
<text transform="translate(395.40,679.60) scale(1.04,1)" font-size="11.2" text-anchor="middle" >250</text>
<text transform="translate(436.90,679.60) scale(1.04,1)" font-size="11.2" text-anchor="middle" >12.5</text>
<text transform="translate(483.70,679.60) scale(1.04,1)" font-size="11.2" text-anchor="middle" >50</text>
<line x1="110.75" y1="683.75" x2="172.50" y2="683.75" stroke="#000" stroke-width="1.5" />
<line x1="234.50" y1="684.00" x2="317.00" y2="684.00" stroke="#000" stroke-width="1.5" />
<line x1="335.00" y1="683.75" x2="401.75" y2="683.75" stroke="#000" stroke-width="1.5" />
<line x1="425.80" y1="683.60" x2="491.60" y2="683.60" stroke="#000" stroke-width="1.5" />
<text transform="translate(138.50,697.00) scale(1.04,1)" font-size="11.2" text-anchor="middle" >ADP (&#956;M)</text>
<text transform="translate(276.00,696.25) scale(1.04,1)" font-size="11.2" text-anchor="middle" >Thrombin</text>
<text transform="translate(277.25,709.50) scale(1.04,1)" font-size="11.2" text-anchor="middle" >(U/ml)</text>
<text transform="translate(368.75,695.50) scale(1.04,1)" font-size="11.2" text-anchor="middle" >PAR4-AP</text>
<text transform="translate(368.90,710.00) scale(1.04,1)" font-size="11.2" text-anchor="middle" >(&#956;M)</text>
<text transform="translate(461.20,696.20) scale(1.04,1)" font-size="11.2" text-anchor="middle" >Convulxin</text>
<text transform="translate(461.20,709.50) scale(1.04,1)" font-size="11.2" text-anchor="middle" >(ng/ml)</text>
<line x1="60.70" y1="748.00" x2="60.70" y2="917.25" stroke="#000" stroke-width="1.7" />
<line x1="55.90" y1="916.40" x2="60.70" y2="916.40" stroke="#000" stroke-width="1.7" />
<text transform="translate(51.50,920.70) scale(0.95,1)" font-size="12.0" text-anchor="end" >0</text>
<line x1="55.90" y1="884.14" x2="60.70" y2="884.14" stroke="#000" stroke-width="1.7" />
<text transform="translate(51.50,888.44) scale(0.95,1)" font-size="12.0" text-anchor="end" >20</text>
<line x1="55.90" y1="851.88" x2="60.70" y2="851.88" stroke="#000" stroke-width="1.7" />
<text transform="translate(51.50,856.18) scale(0.95,1)" font-size="12.0" text-anchor="end" >40</text>
<line x1="55.90" y1="819.62" x2="60.70" y2="819.62" stroke="#000" stroke-width="1.7" />
<text transform="translate(51.50,823.92) scale(0.95,1)" font-size="12.0" text-anchor="end" >60</text>
<line x1="55.90" y1="787.36" x2="60.70" y2="787.36" stroke="#000" stroke-width="1.7" />
<text transform="translate(51.50,791.66) scale(0.95,1)" font-size="12.0" text-anchor="end" >80</text>
<line x1="55.90" y1="755.10" x2="60.70" y2="755.10" stroke="#000" stroke-width="1.7" />
<text transform="translate(51.50,759.40) scale(0.95,1)" font-size="12.0" text-anchor="end" >100</text>
<rect x="77.95" y="909.85" width="21.20" height="6.55" fill="#C8102E" stroke="#C2002C" stroke-width="0.9"/>
<rect x="102.45" y="908.15" width="21.30" height="8.25" fill="#0F4F85" stroke="#0B4880" stroke-width="0.9"/>
<line x1="88.55" y1="909.40" x2="88.55" y2="906.80" stroke="#000" stroke-width="1.35" />
<line x1="80.80" y1="906.80" x2="96.30" y2="906.80" stroke="#000" stroke-width="1.35" />
<line x1="113.10" y1="907.70" x2="113.10" y2="905.40" stroke="#000" stroke-width="1.35" />
<line x1="105.35" y1="905.40" x2="120.85" y2="905.40" stroke="#000" stroke-width="1.35" />
<rect x="159.65" y="799.55" width="21.10" height="116.85" fill="#C8102E" stroke="#C2002C" stroke-width="0.9"/>
<rect x="184.75" y="891.55" width="20.90" height="24.85" fill="#0F4F85" stroke="#0B4880" stroke-width="0.9"/>
<line x1="170.20" y1="799.10" x2="170.20" y2="791.20" stroke="#000" stroke-width="1.35" />
<line x1="162.45" y1="791.20" x2="177.95" y2="791.20" stroke="#000" stroke-width="1.35" />
<line x1="195.20" y1="891.10" x2="195.20" y2="888.60" stroke="#000" stroke-width="1.35" />
<line x1="187.45" y1="888.60" x2="202.95" y2="888.60" stroke="#000" stroke-width="1.35" />
<line x1="164.70" y1="787.50" x2="196.80" y2="787.50" stroke="#000" stroke-width="1.3" />
<path d="M173.45,781.35L173.45,778.50M173.45,781.35L176.16,780.47M173.45,781.35L175.13,783.66M173.45,781.35L171.77,783.66M173.45,781.35L170.74,780.47" stroke="#000" stroke-width="1.15" fill="none"/>
<path d="M179.25,781.35L179.25,778.50M179.25,781.35L181.96,780.47M179.25,781.35L180.93,783.66M179.25,781.35L177.57,783.66M179.25,781.35L176.54,780.47" stroke="#000" stroke-width="1.15" fill="none"/>
<path d="M185.05,781.35L185.05,778.50M185.05,781.35L187.76,780.47M185.05,781.35L186.73,783.66M185.05,781.35L183.37,783.66M185.05,781.35L182.34,780.47" stroke="#000" stroke-width="1.15" fill="none"/>
<line x1="55.90" y1="916.40" x2="209.90" y2="916.40" stroke="#000" stroke-width="1.7" />
<line x1="100.80" y1="916.40" x2="100.80" y2="921.40" stroke="#000" stroke-width="1.7" />
<text transform="translate(102.40,935.00) scale(1.04,1)" font-size="11.3" text-anchor="middle" >Resting</text>
<line x1="182.60" y1="916.40" x2="182.60" y2="921.40" stroke="#000" stroke-width="1.7" />
<text transform="translate(182.80,935.00) scale(1.04,1)" font-size="11.3" text-anchor="middle" >PAR4-AP</text>
<text transform="translate(23.20,838.80) rotate(-90)" font-size="14.2" text-anchor="middle" x="0" y="0" textLength="60.1" lengthAdjust="spacingAndGlyphs">JON/A<tspan font-size="13" dy="-2.6">+</tspan><tspan dy="2.6"> (%)</tspan></text>
<text x="100.80" y="748.10" font-size="12.4" text-anchor="start" >Whole blood</text>
<rect x="222.60" y="887.10" width="5.80" height="5.80" fill="#C8102E"/>
<rect x="222.60" y="900.20" width="5.80" height="5.80" fill="#0F4F85"/>
<text transform="translate(231.10,893.80) scale(1.08,1)" font-size="11.0" text-anchor="start" >Ctrl</text>
<g transform="translate(231.40,906.50) scale(0.946)" fill="#000"><path fill-rule="evenodd" d="M0.00,0.00L3.63,-7.50L7.40,0.00Z M0.98,-0.65L5.56,-0.65L3.23,-5.29Z"/><path d="M7.5,0.4 L8.3,0.4 L11.5,-8.4 L10.7,-8.4 Z"/><path fill-rule="evenodd" d="M11.80,0.00L15.18,-7.50L18.70,0.00Z M12.75,-0.65L16.90,-0.65L14.79,-5.16Z"/></g>
<line x1="318.25" y1="752.20" x2="318.25" y2="920.85" stroke="#000" stroke-width="1.7" />
<line x1="313.45" y1="920.00" x2="318.25" y2="920.00" stroke="#000" stroke-width="1.7" />
<text transform="translate(309.05,924.30) scale(0.95,1)" font-size="12.0" text-anchor="end" >0</text>
<line x1="313.45" y1="866.27" x2="318.25" y2="866.27" stroke="#000" stroke-width="1.7" />
<text transform="translate(309.05,870.56) scale(0.95,1)" font-size="12.0" text-anchor="end" >20</text>
<line x1="313.45" y1="812.53" x2="318.25" y2="812.53" stroke="#000" stroke-width="1.7" />
<text transform="translate(309.05,816.83) scale(0.95,1)" font-size="12.0" text-anchor="end" >40</text>
<line x1="313.45" y1="758.80" x2="318.25" y2="758.80" stroke="#000" stroke-width="1.7" />
<text transform="translate(309.05,763.10) scale(0.95,1)" font-size="12.0" text-anchor="end" >60</text>
<rect x="333.45" y="907.55" width="21.00" height="12.45" fill="#C8102E" stroke="#C2002C" stroke-width="0.9"/>
<rect x="357.95" y="889.95" width="21.00" height="30.05" fill="#0F4F85" stroke="#0B4880" stroke-width="0.9"/>
<line x1="343.95" y1="907.10" x2="343.95" y2="904.30" stroke="#000" stroke-width="1.35" />
<line x1="336.20" y1="904.30" x2="351.70" y2="904.30" stroke="#000" stroke-width="1.35" />
<line x1="368.45" y1="889.50" x2="368.45" y2="886.50" stroke="#000" stroke-width="1.35" />
<line x1="360.70" y1="886.50" x2="376.20" y2="886.50" stroke="#000" stroke-width="1.35" />
<line x1="339.20" y1="881.70" x2="371.50" y2="881.70" stroke="#000" stroke-width="1.3" />
<path d="M351.45,877.55L351.45,874.70M351.45,877.55L354.16,876.67M351.45,877.55L353.13,879.86M351.45,877.55L349.77,879.86M351.45,877.55L348.74,876.67" stroke="#000" stroke-width="1.15" fill="none"/>
<path d="M358.05,877.55L358.05,874.70M358.05,877.55L360.76,876.67M358.05,877.55L359.73,879.86M358.05,877.55L356.37,879.86M358.05,877.55L355.34,876.67" stroke="#000" stroke-width="1.15" fill="none"/>
<rect x="413.65" y="794.95" width="21.20" height="125.05" fill="#C8102E" stroke="#C2002C" stroke-width="0.9"/>
<rect x="438.55" y="879.35" width="20.80" height="40.65" fill="#0F4F85" stroke="#0B4880" stroke-width="0.9"/>
<line x1="424.25" y1="794.50" x2="424.25" y2="786.60" stroke="#000" stroke-width="1.35" />
<line x1="416.50" y1="786.60" x2="432.00" y2="786.60" stroke="#000" stroke-width="1.35" />
<line x1="448.95" y1="878.90" x2="448.95" y2="875.00" stroke="#000" stroke-width="1.35" />
<line x1="441.20" y1="875.00" x2="456.70" y2="875.00" stroke="#000" stroke-width="1.35" />
<line x1="420.30" y1="782.70" x2="453.80" y2="782.70" stroke="#000" stroke-width="1.3" />
<path d="M429.75,776.55L429.75,773.70M429.75,776.55L432.46,775.67M429.75,776.55L431.43,778.86M429.75,776.55L428.07,778.86M429.75,776.55L427.04,775.67" stroke="#000" stroke-width="1.15" fill="none"/>
<path d="M435.55,776.55L435.55,773.70M435.55,776.55L438.26,775.67M435.55,776.55L437.23,778.86M435.55,776.55L433.87,778.86M435.55,776.55L432.84,775.67" stroke="#000" stroke-width="1.15" fill="none"/>
<path d="M441.35,776.55L441.35,773.70M441.35,776.55L444.06,775.67M441.35,776.55L443.03,778.86M441.35,776.55L439.67,778.86M441.35,776.55L438.64,775.67" stroke="#000" stroke-width="1.15" fill="none"/>
<line x1="313.45" y1="920.00" x2="463.50" y2="920.00" stroke="#000" stroke-width="1.7" />
<line x1="356.10" y1="920.00" x2="356.10" y2="925.00" stroke="#000" stroke-width="1.7" />
<text transform="translate(359.80,938.50) scale(1.04,1)" font-size="11.3" text-anchor="middle" >Resting</text>
<line x1="436.60" y1="920.00" x2="436.60" y2="925.00" stroke="#000" stroke-width="1.7" />
<text transform="translate(437.00,938.50) scale(1.04,1)" font-size="11.3" text-anchor="middle" >PAR4-AP</text>
<text transform="translate(280.50,842.00) rotate(-90)" font-size="14.2" text-anchor="middle" x="0" y="0" textLength="73.4" lengthAdjust="spacingAndGlyphs">P-selectin<tspan font-size="12" dy="-1.8">+</tspan><tspan dy="1.8"> (%)</tspan></text>
<text x="356.20" y="748.10" font-size="12.4" text-anchor="start" >Whole blood</text>
<rect x="476.90" y="890.50" width="5.80" height="5.80" fill="#C8102E"/>
<rect x="476.90" y="903.90" width="5.80" height="5.80" fill="#0F4F85"/>
<text transform="translate(485.60,897.60) scale(1.08,1)" font-size="11.0" text-anchor="start" >Ctrl</text>
<g transform="translate(485.90,910.50) scale(0.946)" fill="#000"><path fill-rule="evenodd" d="M0.00,0.00L3.63,-7.50L7.40,0.00Z M0.98,-0.65L5.56,-0.65L3.23,-5.29Z"/><path d="M7.5,0.4 L8.3,0.4 L11.5,-8.4 L10.7,-8.4 Z"/><path fill-rule="evenodd" d="M11.80,0.00L15.18,-7.50L18.70,0.00Z M12.75,-0.65L16.90,-0.65L14.79,-5.16Z"/></g>
</svg>
</body></html>
